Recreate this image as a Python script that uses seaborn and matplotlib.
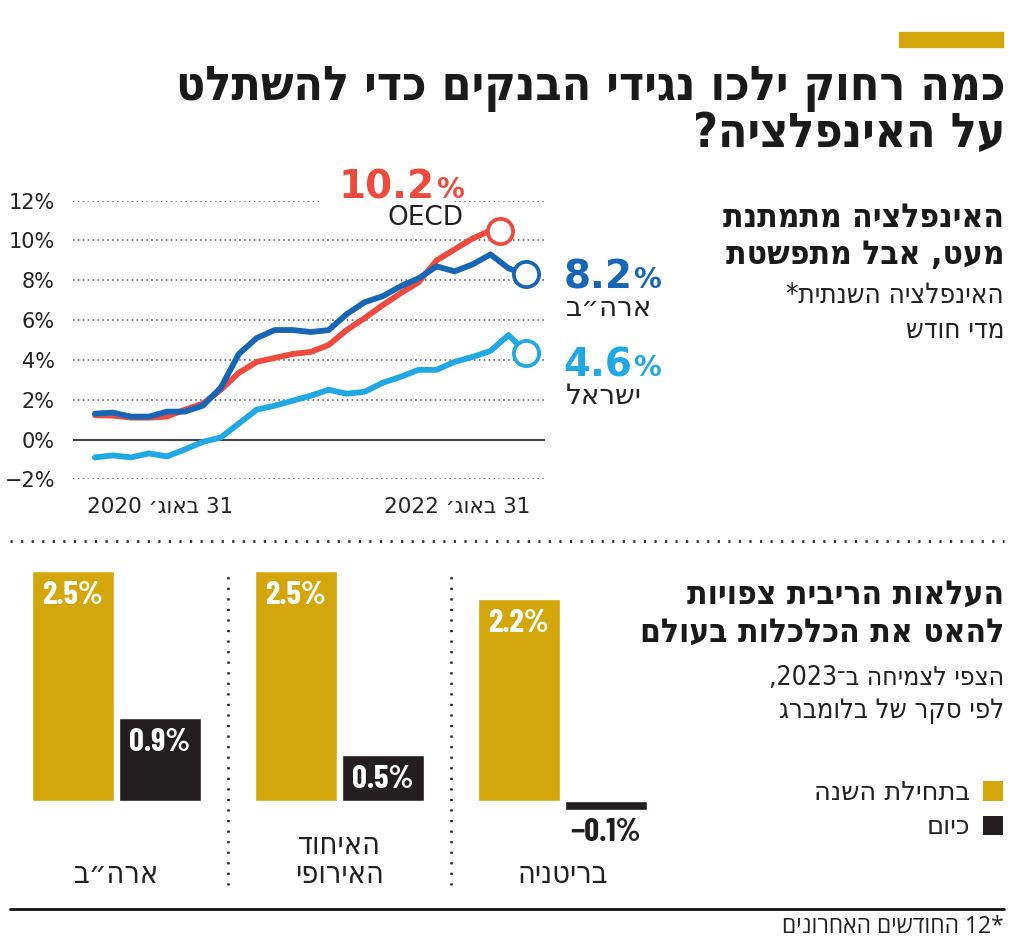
import re
import matplotlib
matplotlib.use('Agg')
import matplotlib.pyplot as plt
import seaborn as sns
import pandas as pd
from matplotlib.lines import Line2D
from matplotlib.patches import Patch, Rectangle
from matplotlib.font_manager import FontProperties

# ---------------- data ----------------
months_us = list(range(25))            # Aug 2020 .. Aug 2022 (month index)
us_values = [1.3, 1.35, 1.15, 1.15, 1.4, 1.4, 1.7, 2.6, 4.3, 5.1, 5.5, 5.5, 5.4,
             5.5, 6.3, 6.9, 7.2, 7.7, 8.1, 8.7, 8.45, 8.8, 9.3, 8.6, 8.3]
months_il = list(range(25))
il_values = [-0.9, -0.8, -0.9, -0.7, -0.85, -0.5, -0.12, 0.1, 0.8, 1.5, 1.7, 1.95, 2.2,
             2.5, 2.3, 2.4, 2.85, 3.15, 3.5, 3.5, 3.9, 4.15, 4.45, 5.25, 4.35]
months_oecd = list(range(23)) + [22.5]
oecd_values = [1.22, 1.2, 1.1, 1.1, 1.15, 1.5, 1.8, 2.5, 3.35, 3.9, 4.1, 4.3, 4.4,
               4.75, 5.5, 6.1, 6.75, 7.35, 7.9, 9.0, 9.55, 10.1, 10.5, 10.5]
end_labels = {'OECD': '10.2', 'US': '8.2', 'IL': '4.6'}
y_ticks = [-2, 0, 2, 4, 6, 8, 10, 12]
x_tick_months = [0, 24]
x_tick_labels = ['31 באוג׳ 2020', '31 באוג׳ 2022']

countries = ['ארה״ב', 'האיחוד\nהאירופי', 'בריטניה']
rate_start = [2.5, 2.5, 2.2]
rate_now = [0.9, 0.5, -0.1]
period_names = ['בתחילת השנה', 'כיום']

# ---------------- style ----------------
W, H, DPI = 1024, 952, 100
GOLD = '#D3A70B'
BLACK = '#231F20'
RED = '#EE4B3E'
BLUE = '#1766B5'
LIGHT = '#1FA8E4'
TXT = '#222222'

sns.set_theme(style='white')
HEBF = ['DejaVu Sans']
NUMF = ['Liberation Sans Narrow', 'DejaVu Sans']
CONDB = ['Barlow Condensed', 'Roboto Condensed', 'Liberation Sans Narrow', 'DejaVu Sans']
plt.rcParams['font.family'] = HEBF


def heb(s):
    """Visual (left-to-right) order for right-to-left Hebrew text, line by line."""
    out = []
    for line in s.split('\n'):
        r = line[::-1]
        out.append(re.sub(r'[0-9A-Za-z.]+', lambda m: m.group(0)[::-1], r))
    return '\n'.join(out)


def fx(px):
    return px / W


def fy(py):
    return 1 - py / H


fig = plt.figure(figsize=(W / DPI, H / DPI), dpi=DPI)
fig.patch.set_facecolor('white')

# ---------------- header ----------------
fig.patches.append(Rectangle((fx(899), fy(47)), fx(104), 15 / H,
                             transform=fig.transFigure, color=GOLD))
fig.text(fx(1005), fy(100), heb('כמה רחוק ילכו נגידי הבנקים כדי להשתלט'), ha='right',
         va='baseline', fontsize=34.5, fontweight='bold', color='#1a1a1a', stretch='condensed')
fig.text(fx(1005), fy(147), heb('על האינפלציה?'), ha='right', va='baseline', fontsize=34.5,
         fontweight='bold', color='#1a1a1a', stretch='condensed')

# ---------------- line chart ----------------
ax1 = fig.add_axes([fx(73), fy(479.3), fx(545) - fx(73), (479.3 - 200.7) / H])
df_line = pd.concat([
    pd.DataFrame({'month': months_oecd, 'value': oecd_values, 'series': 'OECD'}),
    pd.DataFrame({'month': months_us, 'value': us_values, 'series': 'US'}),
    pd.DataFrame({'month': months_il, 'value': il_values, 'series': 'IL'}),
], ignore_index=True)
palette = {'OECD': RED, 'US': BLUE, 'IL': LIGHT}
sns.lineplot(data=df_line, x='month', y='value', hue='series', palette=palette,
             linewidth=4.2, legend=False, ax=ax1, sort=False, clip_on=False)
for s, g in df_line.groupby('series', sort=False):
    last = g.iloc[-1]
    ax1.scatter([last['month']], [last['value']], s=330, facecolor='white',
                edgecolor=palette[s], linewidth=2.7, zorder=5, clip_on=False)

ax1.set_xlim(-1.22, 25.03)
ax1.set_ylim(-2, 12)
for sp in ax1.spines.values():
    sp.set_visible(False)
ax1.set_yticks(y_ticks)
ax1.set_yticklabels([('−2%' if v < 0 else f'{v}%') for v in y_ticks],
                    fontsize=15, color=TXT, family=NUMF)
ax1.tick_params(axis='y', length=0, pad=13)
for v in y_ticks:
    if v == 0:
        ax1.axhline(v, color='#444444', lw=1.5, zorder=1)
    else:
        ax1.axhline(v, color='#555555', lw=1.1, ls=(0, (1, 2.2)), zorder=1)
ax1.set_xticks(x_tick_months)
ax1.set_xticklabels([])
ax1.tick_params(axis='x', direction='inout', length=12, width=1.4, color='#333333')
ax1.set_xlabel('')
ax1.set_ylabel('')
ax1.annotate(heb(x_tick_labels[0]), xy=(x_tick_months[0], -2), xytext=(-8, -28),
             textcoords='offset pixels', ha='left', va='center', fontsize=15.5,
             color=TXT, family=NUMF)
ax1.annotate(heb(x_tick_labels[1]), xy=(x_tick_months[1], -2), xytext=(4, -28),
             textcoords='offset pixels', ha='right', va='center', fontsize=15.5,
             color=TXT, family=NUMF)

# end labels: number + smaller percent sign
NUM_FS, PCT_FS = 28, 20
DESC = 0.236 * (NUM_FS - PCT_FS) * DPI / 72
GAP = 1


def pct_left(xy, num, color, off):
    t1 = ax1.annotate(num, xy=xy, xytext=off, textcoords='offset pixels', ha='left',
                      va='baseline', color=color, fontsize=NUM_FS, fontweight='bold', zorder=6)
    ax1.annotate('%', xy=(1, 0), xycoords=t1, xytext=(GAP, DESC), textcoords='offset pixels',
                 ha='left', va='bottom', color=color, fontsize=PCT_FS, fontweight='bold',
                 zorder=6)


def pct_right(xy, num, color, off):
    t2 = ax1.annotate('%', xy=xy, xytext=off, textcoords='offset pixels', ha='right',
                      va='baseline', color=color, fontsize=PCT_FS, fontweight='bold', zorder=7)
    # white backing on the number interrupts the gridline behind the label
    ax1.annotate(num, xy=(0, 0), xycoords=t2, xytext=(-GAP, -DESC), textcoords='offset pixels',
                 ha='right', va='bottom', color=color, fontsize=NUM_FS, fontweight='bold',
                 zorder=6, bbox=dict(boxstyle='square,pad=0.45', fc='white', ec='none'))


pct_right((months_oecd[-1], oecd_values[-1]), end_labels['OECD'], RED, (-36, 33))
ax1.annotate('OECD', xy=(months_oecd[-1], oecd_values[-1]), xytext=(-36, 6),
             textcoords='offset pixels', ha='right', va='baseline', color=TXT,
             fontsize=19, zorder=8)
pct_left((months_us[-1], us_values[-1]), end_labels['US'], BLUE, (37, -14))
ax1.annotate(heb('ארה״ב'), xy=(months_us[-1], us_values[-1]), xytext=(39, -42),
             textcoords='offset pixels', ha='left', va='baseline', color=TXT, fontsize=20)
pct_left((months_il[-1], il_values[-1]), end_labels['IL'], LIGHT, (37, -24))
ax1.annotate(heb('ישראל'), xy=(months_il[-1], il_values[-1]), xytext=(39, -51),
             textcoords='offset pixels', ha='left', va='baseline', color=TXT, fontsize=20)

# right text block 1
HB = dict(ha='right', va='baseline', fontsize=24, fontweight='bold', color='#1a1a1a',
          stretch='condensed')
HR = dict(ha='right', va='baseline', fontsize=20, color=TXT, stretch='condensed')
fig.text(fx(1004), fy(227), heb('האינפלציה מתמתנת'), **HB)
fig.text(fx(1004), fy(264), heb('מעט, אבל מתפשטת'), **HB)
fig.text(fx(1004), fy(303), heb('האינפלציה השנתית*'), **HR)
fig.text(fx(1004), fy(338), heb('מדי חודש'), **HR)

# separator
fig.add_artist(Line2D([fx(10), fx(1004)], [fy(541), fy(541)], transform=fig.transFigure,
                      color='#333333', lw=2, ls=(0, (0.8, 3))))

# ---------------- bar chart ----------------
ax2 = fig.add_axes([fx(4.75), fy(900), fx(674) - fx(4.75), 340 / H])
df_bar = pd.DataFrame({
    'country': countries * 2,
    'period': [period_names[0]] * 3 + [period_names[1]] * 3,
    'value': rate_start + rate_now,
})
sns.barplot(data=df_bar, x='country', y='value', hue='period', order=countries,
            hue_order=period_names, palette=[GOLD, BLACK], width=0.78, gap=0.06,
            saturation=1, legend=False, ax=ax2)
ax2.set_xlim(-0.5, 2.5)
ax2.set_ylim(-1.0805, 2.619)
ax2.axis('off')

lab = dict(fontsize=23.5, fontweight='bold', family=CONDB)
for cont in ax2.containers:
    for p, v in zip(cont.patches, cont.datavalues):
        cx = p.get_x() + p.get_width() / 2
        txt = ('−' if v < 0 else '') + f'{abs(v):.1f}%'
        if v > 0:
            ax2.annotate(txt, xy=(cx, v), xytext=(0, -10), textcoords='offset pixels',
                         ha='center', va='top', color='white', **lab)
        else:
            ax2.annotate(txt, xy=(cx, v), xytext=(0, -8), textcoords='offset pixels',
                         ha='center', va='top', color=BLACK, **lab)

for i, c in enumerate(countries):
    ax2.text(i, -0.895, heb(c), ha='center', va='baseline', fontsize=22, color=TXT,
             linespacing=1.0, stretch='condensed')
ax2.vlines([0.5, 1.5], -0.917, 2.51, colors='#333333', lw=2, linestyles=(0, (0.8, 3)))

# right text block 2
fig.text(fx(1004), fy(604), heb('העלאות הריבית צפויות'), **HB)
fig.text(fx(1004), fy(642), heb('להאט את הכלכלות בעולם'), **HB)
fig.text(fx(1004), fy(685), heb('הצפי לצמיחה ב־2023,'), **dict(HR, fontsize=19))
fig.text(fx(1004), fy(718), heb('לפי סקר של בלומברג'), **dict(HR, fontsize=19.5))

handles = [Patch(facecolor=GOLD, edgecolor='none'), Patch(facecolor=BLACK, edgecolor='none')]
fig.legend(handles, [heb(p) for p in period_names], loc='upper right',
           bbox_to_anchor=(fx(1003), fy(780)), markerfirst=False, frameon=False,
           prop=FontProperties(family='DejaVu Sans', size=18.5),
           handlelength=0.78, handleheight=0.78, handletextpad=0.5,
           labelspacing=0.32, labelcolor=TXT, borderpad=0, borderaxespad=0)

# footer
fig.add_artist(Line2D([fx(10), fx(1004)], [fy(909), fy(909)], transform=fig.transFigure,
                      color='#111111', lw=2))
fig.text(fx(1004), fy(933), heb('*12 החודשים האחרונים'), ha='right', va='baseline',
         fontsize=16.5, color=TXT, family=['Open Sans', 'DejaVu Sans'])

fig.savefig('out.png', dpi=DPI, facecolor='white')
